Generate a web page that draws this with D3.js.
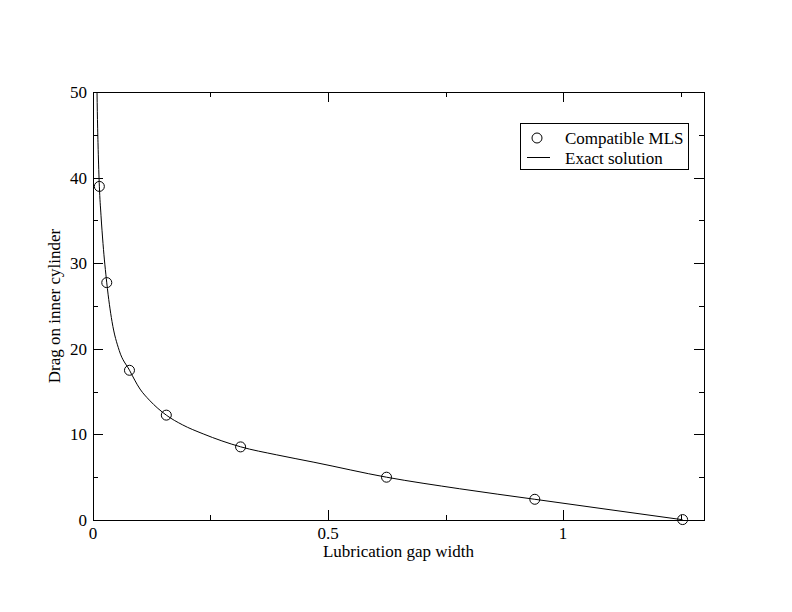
<!DOCTYPE html>
<html>
<head>
<meta charset="utf-8">
<script src="https://cdn.jsdelivr.net/npm/d3@7"></script>
<style>
  html, body { margin: 0; padding: 0; background: #fff; }
</style>
</head>
<body>
<svg id="chart" width="792" height="612"></svg>
<script>
// ---- data ----
const mlsGap  = [0.0135, 0.0293, 0.0776, 0.156, 0.314, 0.6245, 0.94, 1.2545];
const mlsDrag = [38.97, 27.73, 17.49, 12.25, 8.54, 5.0, 2.42, 0.05];

const exactGap  = [0.0083, 0.0095, 0.011, 0.0135, 0.017, 0.0213, 0.0293, 0.0404, 0.0558, 0.0776, 0.100, 0.120, 0.156, 0.19, 0.2345, 0.314, 0.39, 0.47, 0.6245, 0.78, 0.94, 1.10, 1.2545];
const exactDrag = [51.0, 46.8, 43.3, 39.0, 35.6, 32.3, 27.7, 23.2, 19.8, 17.5, 15.3, 14.0, 12.25, 11.13, 10.06, 8.55, 7.62, 6.75, 5.0, 3.65, 2.42, 1.2, 0.03];

const xMajor = [0, 0.5, 1];
const xMinor = [0.25, 0.75, 1.25];
const xLabels = ["0", "0.5", "1"];
const yMajor = [0, 10, 20, 30, 40, 50];
const yMinor = [5, 15, 25, 35, 45];
const yLabels = ["0", "10", "20", "30", "40", "50"];

const legendLabels = ["Compatible MLS", "Exact solution"];
const xTitle = "Lubrication gap width";
const yTitle = "Drag on inner cylinder";

// ---- layout ----
const FONT = "'Liberation Serif', 'Times New Roman', Times, 'DejaVu Serif', serif";
const FS = 17;
const L = 93, R = 704, T = 92, B = 520;
const svg = d3.select("#chart");
const x = d3.scaleLinear().domain([0, 1.3]).range([L, R]);
const y = d3.scaleLinear().domain([0, 50]).range([B, T]);

svg.append("clipPath").attr("id", "clip")
  .append("rect").attr("x", L).attr("y", T).attr("width", R - L).attr("height", B - T);

// ticks (inward, all four sides)
const g = svg.append("g").attr("stroke", "#000").attr("stroke-width", 1).attr("shape-rendering", "crispEdges");
function xt(vals, len) {
  vals.forEach(v => {
    const px = Math.round(x(v)) + 0.5;
    g.append("line").attr("x1", px).attr("x2", px).attr("y1", B).attr("y2", B - len);
    g.append("line").attr("x1", px).attr("x2", px).attr("y1", T).attr("y2", T + len);
  });
}
function yt(vals, len) {
  vals.forEach(v => {
    const py = Math.round(y(v)) + 0.5;
    g.append("line").attr("x1", L).attr("x2", L + len).attr("y1", py).attr("y2", py);
    g.append("line").attr("x1", R).attr("x2", R - len).attr("y1", py).attr("y2", py);
  });
}
xt(xMajor, 10); xt(xMinor, 5);
yt(yMajor, 10); yt(yMinor, 5);

// frame
svg.append("rect").attr("x", L + 0.5).attr("y", T + 0.5).attr("width", R - L).attr("height", B - T)
  .attr("fill", "none").attr("stroke", "#000").attr("stroke-width", 1).attr("shape-rendering", "crispEdges");

// tick labels
svg.append("g").selectAll("text").data(xMajor).join("text")
  .attr("font-family", FONT)
  .attr("x", d => x(d)).attr("y", 539).attr("text-anchor", "middle").attr("font-size", FS)
  .text((d, i) => xLabels[i]);
svg.append("g").selectAll("text").data(yMajor).join("text")
  .attr("font-family", FONT)
  .attr("x", 87).attr("y", d => y(d) + 6).attr("text-anchor", "end").attr("font-size", FS)
  .text((d, i) => yLabels[i]);

// axis titles
svg.append("text").attr("font-family", FONT).attr("x", (L + R) / 2).attr("y", 557).attr("text-anchor", "middle")
  .attr("font-size", FS).text(xTitle);
svg.append("text").attr("font-family", FONT).attr("transform", `translate(60,${(T + B) / 2}) rotate(-90)`)
  .attr("text-anchor", "middle").attr("font-size", FS).text(yTitle);

// exact curve
const exact = exactGap.map((v, i) => [v, exactDrag[i]]);
const line = d3.line().x(d => x(d[0])).y(d => y(d[1])).curve(d3.curveMonotoneX);
svg.append("path").datum(exact).attr("d", line).attr("clip-path", "url(#clip)")
  .attr("fill", "none").attr("stroke", "#000").attr("stroke-width", 1);

// MLS circles
svg.append("g").selectAll("circle").data(mlsGap).join("circle")
  .attr("cx", d => x(d)).attr("cy", (d, i) => y(mlsDrag[i])).attr("r", 5)
  .attr("fill", "none").attr("stroke", "#000").attr("stroke-width", 1);

// legend
const lg = svg.append("g");
lg.append("rect").attr("x", 520.5).attr("y", 123.5).attr("width", 168).attr("height", 46)
  .attr("fill", "#fff").attr("stroke", "#000").attr("stroke-width", 1).attr("shape-rendering", "crispEdges");
lg.append("circle").attr("cx", 537).attr("cy", 138).attr("r", 5)
  .attr("fill", "none").attr("stroke", "#000");
lg.append("line").attr("x1", 527).attr("x2", 550).attr("y1", 157.5).attr("y2", 157.5)
  .attr("stroke", "#000");
lg.append("text").attr("font-family", FONT).attr("x", 565).attr("y", 143.5).attr("font-size", FS).text(legendLabels[0]);
lg.append("text").attr("font-family", FONT).attr("x", 565).attr("y", 163.5).attr("font-size", FS).text(legendLabels[1]);
</script>
</body>
</html>
